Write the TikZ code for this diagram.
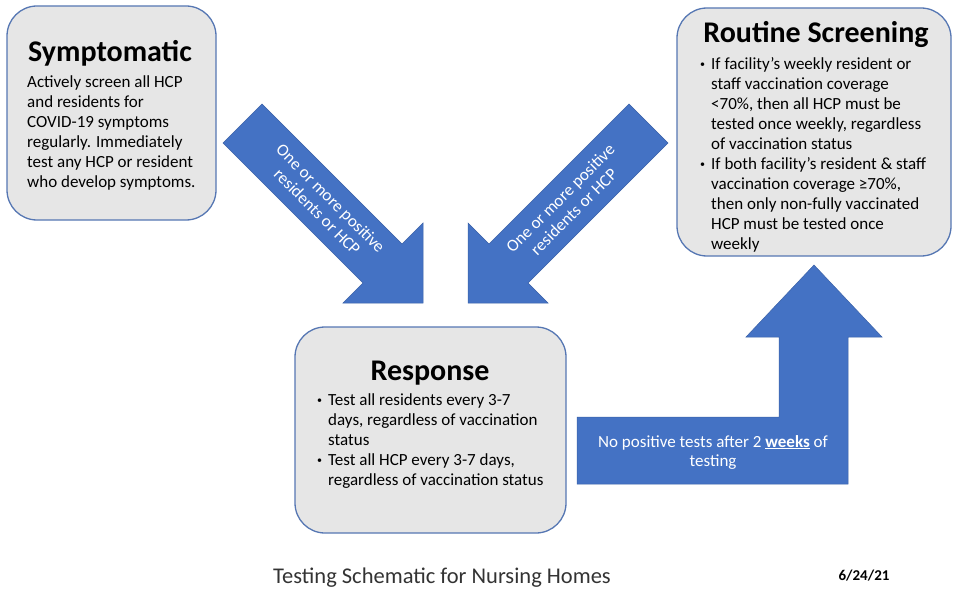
\documentclass[tikz,border=0pt]{standalone}
\usepackage{fontspec}
\setmainfont{Carlito}
\usetikzlibrary{positioning}
\definecolor{arrowblue}{HTML}{4472C4}
\definecolor{boxline}{HTML}{5677B3}
\definecolor{boxfill}{HTML}{E6E6E6}
\newcommand{\bitem}{\makebox[11pt][l]{\raisebox{1.5pt}{\fontsize{10}{10}\selectfont\textbullet}}}
\newcommand{\bcont}{\hspace*{11pt}}
\tikzset{
  stagebox/.style={draw=boxline, fill=boxfill, rounded corners=30pt, line width=1.3pt},
  bigarrow/.style={fill=arrowblue, draw=arrowblue!85!black, line width=0.5pt},
  boxtitle/.style={anchor=base, inner sep=0pt, font=\bfseries\fontsize{30}{34}\selectfont},
  boxtext/.style={anchor=base west, inner sep=0pt, align=left, font=\fontsize{17}{20}\selectfont},
  arrowtext/.style={text=white, align=center, inner sep=0pt, font=\fontsize{17}{19}\selectfont}
}
\begin{document}
\begin{tikzpicture}[x=1pt,y=-1pt]
\useasboundingbox (0,0) rectangle (955,591);
\draw[stagebox] (7,6) rectangle (216,220);
\draw[stagebox] (677,8) rectangle (951,256);
\draw[stagebox] (295,327) rectangle (566,533);
\filldraw[bigarrow] (262,104) -- (402,244) -- (423,223) -- (423,303) -- (343,303) -- (363,283) -- (223,143) -- cycle;
\filldraw[bigarrow] (629,104) -- (489,244) -- (468,223) -- (468,303) -- (548,303) -- (528,283) -- (668,143) -- cycle;
\filldraw[bigarrow] (577,417) -- (779,417) -- (779,337) -- (746,337) -- (814,265) -- (882,337) -- (848,337) -- (848,484) -- (577,484) -- cycle;
\node[boxtitle] (symptitle) at (110,62) {Symptomatic};
\node[boxtext] (symptext) at (27,187) {Actively screen all HCP\\and residents for\\COVID-19 symptoms\\regularly. Immediately\\test any HCP or resident\\who develop symptoms.};
\node[boxtitle] (routitle) at (816,43) {Routine Screening};
\node[boxtext] (routext) at (700,249) {\bitem If facility’s weekly resident or\\\bcont staff vaccination coverage\\\bcont <70\%, then all HCP must be\\\bcont tested once weekly, regardless\\\bcont of vaccination status\\\bitem If both facility’s resident \& staff\\\bcont vaccination coverage ≥70\%,\\\bcont then only non-fully vaccinated\\\bcont HCP must be tested once\\\bcont weekly};
\node[boxtitle] (resptitle) at (430,380) {Response};
\node[boxtext] (resptext) at (317,485) {\bitem Test all residents every 3-7\\\bcont days, regardless of vaccination\\\bcont status\\\bitem Test all HCP every 3-7 days,\\\bcont regardless of vaccination status};
\node[arrowtext, rotate=-45] (posleft) at (324,205) {One or more positive\\residents or HCP};
\node[arrowtext, rotate=45] (posright) at (567,205) {One or more positive\\residents or HCP};
\node[arrowtext] (nopos) at (713,452) {No positive tests after 2 \underline{\textbf{weeks}} of\\testing};
\node[font=\fontsize{22.5}{26}\selectfont, text=black!80] (caption) at (442,578) {Testing Schematic for Nursing Homes};
\node[font=\bfseries\fontsize{15}{17}\selectfont] (date) at (864,576) {6/24/21};
\end{tikzpicture}
\end{document}
